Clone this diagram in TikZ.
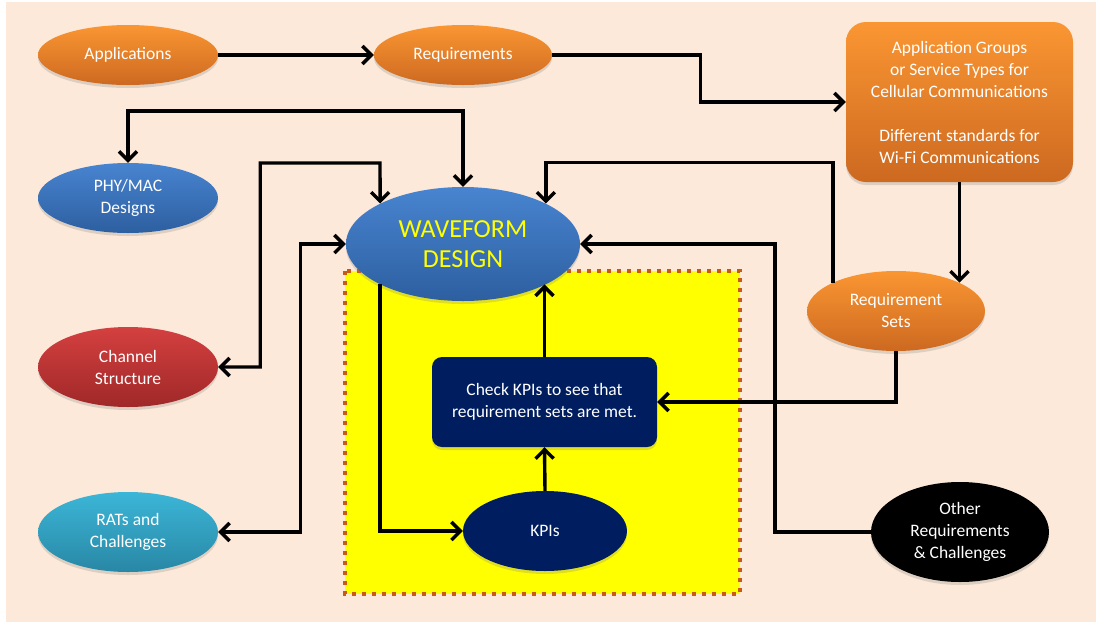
\documentclass[tikz,border=0pt]{standalone}
\usepackage{fontspec}
\setmainfont{Carlito}
\usetikzlibrary{shapes.geometric,arrows.meta,shadows,calc}

\definecolor{pagebg}{RGB}{253,233,217}
\definecolor{orTop}{RGB}{250,150,50}
\definecolor{orBot}{RGB}{205,105,32}
\definecolor{blTop}{RGB}{72,132,208}
\definecolor{blBot}{RGB}{45,95,160}
\definecolor{rdTop}{RGB}{212,64,64}
\definecolor{rdBot}{RGB}{160,40,40}
\definecolor{cyTop}{RGB}{60,182,215}
\definecolor{cyBot}{RGB}{40,135,165}
\definecolor{navy}{RGB}{0,30,95}
\definecolor{frameor}{RGB}{200,90,20}
\definecolor{pureyellow}{RGB}{255,255,0}

\tikzset{
  body/.style={font=\fontsize{17.5}{22}\selectfont, text=white, align=center},
  oval/.style={body, ellipse, inner sep=0pt,
    drop shadow={opacity=0.25, shadow xshift=0pt, shadow yshift=-3pt}},
  orangeoval/.style={oval, top color=orTop, bottom color=orBot},
  blueoval/.style={oval, top color=blTop, bottom color=blBot},
  redoval/.style={oval, top color=rdTop, bottom color=rdBot},
  cyanoval/.style={oval, top color=cyTop, bottom color=cyBot},
  barb/.tip={Straight Barb[length=9pt,width=18pt,line width=3.4pt]},
  conn/.style={line width=3.4pt, black, line join=miter, -barb},
  bothconn/.style={conn, barb-barb},
}

\begin{document}
\begin{tikzpicture}[x=1pt,y=-1pt]
  % page and background
  \useasboundingbox (0,0) rectangle (1096,622);
  \fill[white] (0,0) rectangle (1096,622);
  \fill[pagebg] (6,2) rectangle (1096,622);

  % dotted yellow area around the KPI loop
  \fill[pureyellow] (345,271) rectangle (740,594);
  \draw[frameor, line width=4pt, dash pattern=on 4pt off 6pt]
    (345,271) rectangle (740,594);

  % nodes
  \node[orangeoval, minimum width=180pt, minimum height=60pt] (app) at (128,55) {Applications};
  \node[orangeoval, minimum width=178pt, minimum height=60pt] (req) at (463,55) {Requirements};
  \node[body, rounded corners=20pt, minimum width=227pt, minimum height=160pt,
        top color=orTop, bottom color=orBot,
        drop shadow={opacity=0.25, shadow xshift=0pt, shadow yshift=-3pt}] (grp) at (959.5,102)
    {Application Groups\\or Service Types for\\Cellular Communications\\[22pt]Different standards for\\Wi-Fi Communications};
  \node[blueoval, minimum width=180pt, minimum height=70pt] (phy) at (128,198) {PHY/MAC\\Designs};
  \node[redoval, minimum width=180pt, minimum height=80pt] (chan) at (128,367) {Channel\\Structure};
  \node[cyanoval, minimum width=180pt, minimum height=80pt] (rat) at (128,532) {RATs and\\Challenges};
  \node[blueoval, minimum width=234pt, minimum height=114pt,
        font=\fontsize{26}{30}\selectfont, text=pureyellow] (wave) at (463,244) {WAVEFORM\\DESIGN};
  \node[orangeoval, minimum width=178pt, minimum height=80pt] (rs) at (896,311) {Requirement\\Sets};
  \node[body, fill=navy, rounded corners=10pt, minimum width=225pt, minimum height=90pt,
        drop shadow={opacity=0.25, shadow xshift=0pt, shadow yshift=-3pt}] (check) at (544.5,402)
    {Check KPIs to see that\\requirement sets are met.};
  \node[oval, fill=navy, minimum width=164pt, minimum height=80pt] (kpi) at (545,531) {KPIs};
  \node[oval, fill=black, minimum width=178pt, minimum height=100pt] (oth) at (960,532)
    {Other\\Requirements\\\& Challenges};

  % connectors
  \draw[conn] (app.east) -- (req.west);
  \draw[conn] (req.east) -- ++(148,0) |- (grp.west);
  \draw[conn] (grp.south) -- (grp.south |- rs.north east);
  \draw[conn] (rs.north west) -- ++(0,-120) -| (wave.north east);
  \draw[conn] (rs.south) |- (check.east);
  \draw[conn] (oth.west) -- ++(-96,0) |- (wave.east);
  \draw[bothconn] (wave.north) -- ++(0,-76) -| (phy.north);
  \draw[bothconn] (chan.east) -- ++(42,0) |- (380,163) -- (wave.north west);
  \draw[bothconn] (rat.east) -- ++(82,0) |- (wave.west);
  \draw[conn] (wave.south west) |- (kpi.west);
  \draw[conn] (kpi.north) -- (check.south);
  \draw[conn] (check.north) -- (check.north |- wave.south east);
\end{tikzpicture}
\end{document}
